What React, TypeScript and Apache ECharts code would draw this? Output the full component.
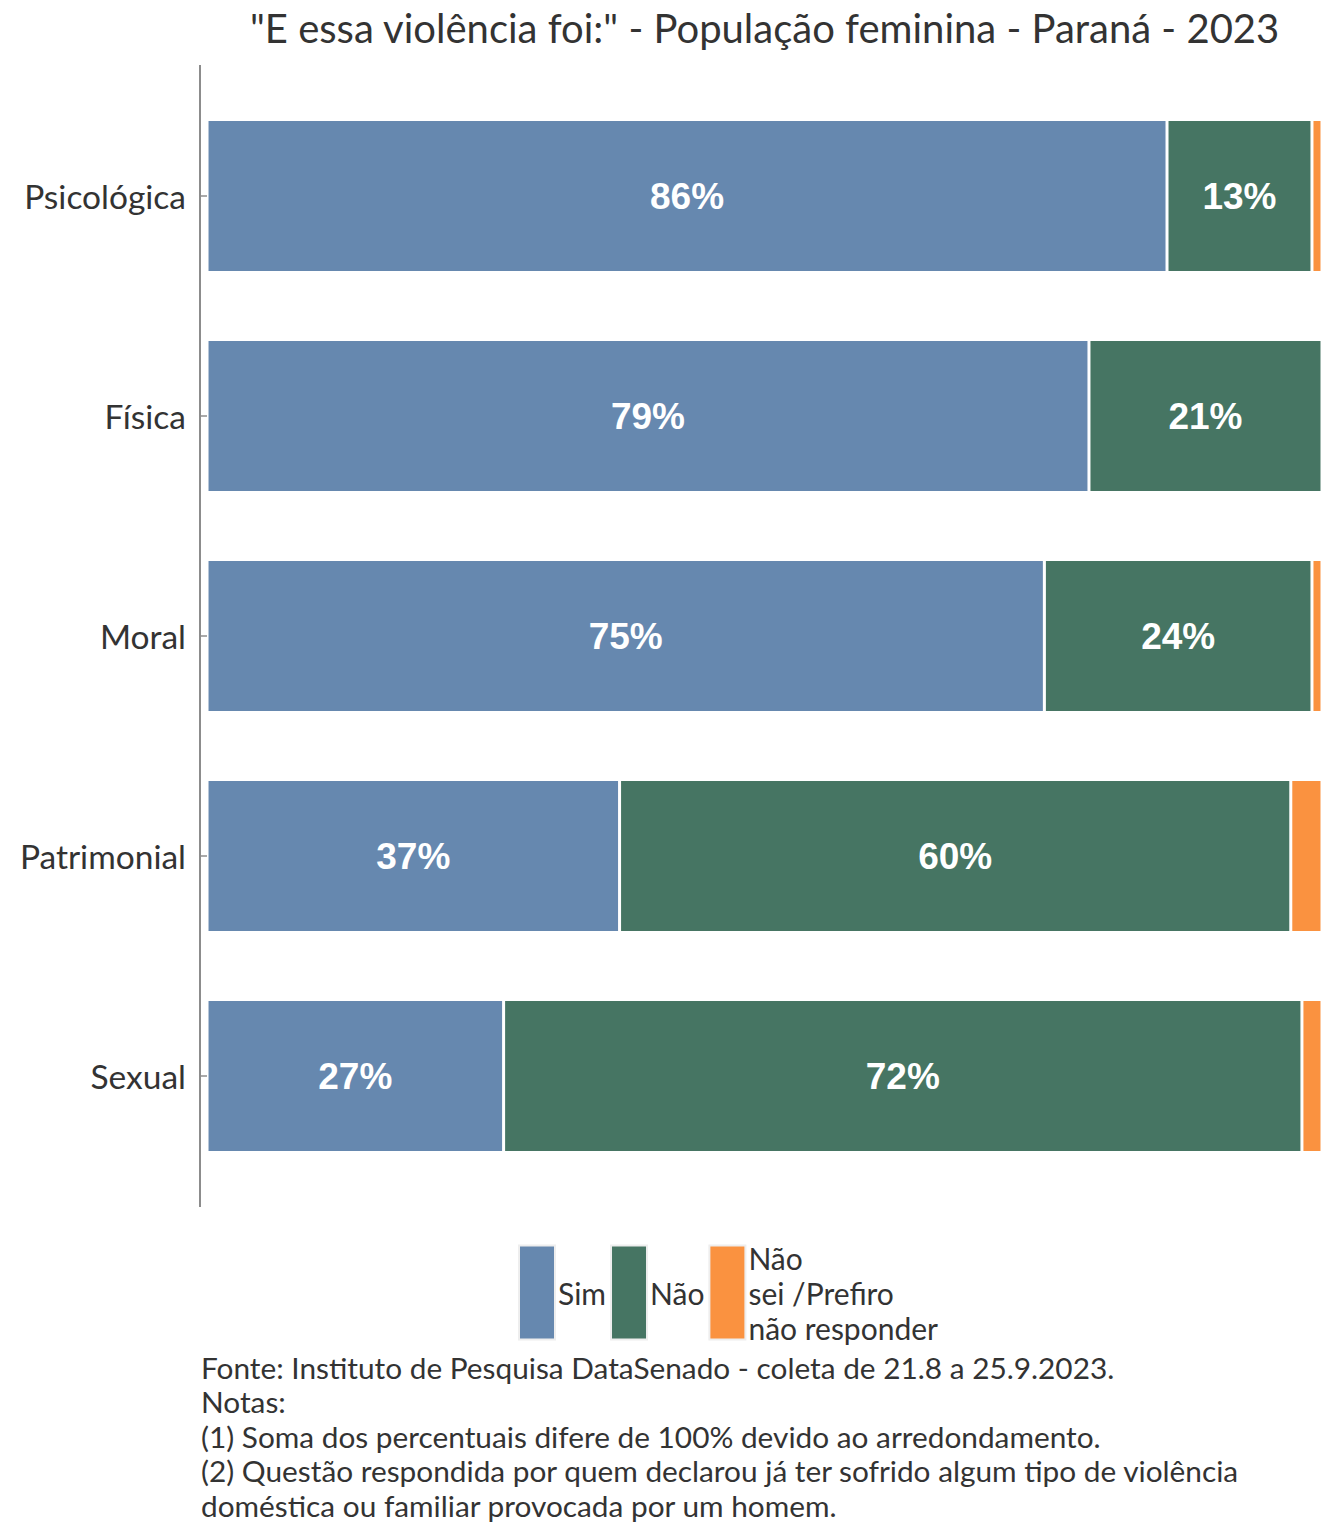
import React, { useEffect, useRef } from "react";
import * as echarts from "echarts";

const categories = ["Psicológica", "Física", "Moral", "Patrimonial", "Sexual"];
const simValues = [86.1, 79.1, 75.1, 37.0, 26.6];
const naoValues = [13.0, 20.9, 24.0, 60.2, 71.6];
const nsValues = [0.9, 0.0, 0.9, 2.8, 1.8];
const seriesNames = ["Sim", "Não", "Não\nsei /Prefiro\nnão responder"];
const colors = ["#6688AF", "#467563", "#FA9240"];
const titleText = '"E essa violência foi:" - População feminina - Paraná - 2023';
const footerLines = [
  "Fonte: Instituto de Pesquisa DataSenado - coleta de 21.8 a 25.9.2023.",
  "Notas:",
  "(1) Soma dos percentuais difere de 100% devido ao arredondamento.",
  "(2) Questão respondida por quem declarou já ter sofrido algum tipo de violência",
  "doméstica ou familiar provocada por um homem.",
];

const FONT = "Lato";

export default function App() {
  const ref = useRef<HTMLDivElement>(null);
  useEffect(() => {
    document.body.style.margin = "0";
    const chart = echarts.init(ref.current!, null, { renderer: "svg" });
    const data = [simValues, naoValues, nsValues];
    const series = data.map((vals, i) => ({
      name: seriesNames[i],
      type: "bar",
      stack: "total",
      barWidth: 153,
      data: vals,
      itemStyle: { color: colors[i], borderColor: "#ffffff", borderWidth: 1.5 },
      label: {
        show: i < 2,
        position: "inside",
        formatter: (p: any) => Math.round(p.value) + "%",
        color: "#ffffff",
        fontFamily: "Liberation Sans",
        fontWeight: "bold",
        fontSize: 37,
      },
    }));
    chart.setOption({
      animation: false,
      title: {
        text: titleText,
        left: 245,
        top: 3,
        padding: 5,
        textStyle: { fontFamily: FONT, fontSize: 40, fontWeight: "normal", color: "#333333" },
      },
      grid: { left: 200, right: 22, top: 86, bottom: 350, containLabel: false },
      xAxis: {
        type: "value",
        min: -0.63,
        max: 100,
        show: false,
      },
      yAxis: {
        type: "category",
        data: categories,
        inverse: true,
        axisLine: { show: false },
        axisTick: { show: true, alignWithLabel: true, length: 7, lineStyle: { color: "#8c8c8c", width: 1.5 } },
        axisLabel: { margin: 14, fontFamily: FONT, fontSize: 33.5, color: "#333333" },
      },
      legend: {
        left: 518,
        top: 1240,
        padding: 0,
        itemWidth: 36,
        itemHeight: 94,
        itemGap: 4,
        icon: "rect",
        itemStyle: { borderColor: "#eeeeee", borderWidth: 2 },
        textStyle: { fontFamily: FONT, fontSize: 30, color: "#333333", lineHeight: 35, padding: [0, 0, 0, -2] },
        data: seriesNames,
      },
      graphic: [
        {
          type: "line",
          shape: { x1: 200, y1: 65, x2: 200, y2: 1207 },
          style: { stroke: "#8c8c8c", lineWidth: 2 },
        },
        {
          type: "text",
          x: 201,
          y: 1350,
          style: {
            text: footerLines.join("\n"),
            fontFamily: FONT,
            fontSize: 29.8,
            lineHeight: 34.5,
            fill: "#333333",
          },
        },
      ],
      series,
    });
    return () => chart.dispose();
  }, []);
  return <div ref={ref} style={{ width: 1344, height: 1536 }} />;
}
